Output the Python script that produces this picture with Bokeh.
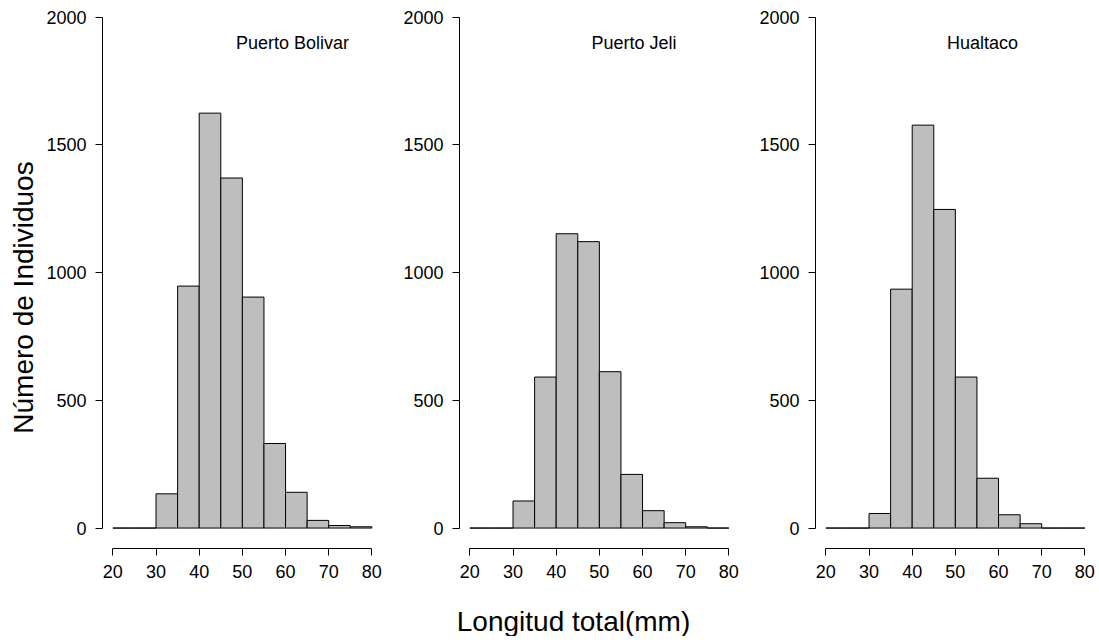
import math
from bokeh.plotting import figure
from bokeh.layouts import row, column
from bokeh.models import Range1d, FixedTicker, Label
from bokeh.embed import file_html
from bokeh.resources import INLINE

# ---- data ----
bin_edges = [20, 25, 30, 35, 40, 45, 50, 55, 60, 65, 70, 75, 80]
puerto_bolivar = [0, 0, 134, 947, 1624, 1370, 904, 331, 140, 30, 10, 5]
puerto_jeli = [0, 0, 106, 591, 1152, 1121, 612, 210, 68, 21, 5, 0]
hualtaco = [0, 0, 57, 935, 1577, 1247, 591, 195, 52, 17, 0, 0]
panel_names = ["Puerto Bolivar", "Puerto Jeli", "Hualtaco"]
x_ticks = [20, 30, 40, 50, 60, 70, 80]
y_ticks = [0, 500, 1000, 1500, 2000]
x_title = "Longitud total(mm)"
y_title = "Número de Individuos"

FONT = "Liberation Sans"
PX_PER_UNIT = 4.317
FRAME_H = 540
TOP, BOTTOM = 8, 40
PANEL_H = TOP + FRAME_H + BOTTOM


def blank_fig(w, h):
    f = figure(frame_width=w, frame_height=h, title=None,
               x_range=Range1d(0, w), y_range=Range1d(0, h),
               x_axis_type=None, y_axis_type=None,
               output_backend="svg", toolbar_location=None,
               min_border=0, background_fill_color="white",
               border_fill_color="white")
    f.outline_line_color = None
    f.grid.visible = False
    return f


# left strip carrying the y-axis title
ylab_w = 40
ylab = blank_fig(ylab_w, PANEL_H)
ylab.add_layout(Label(x=23, y=PANEL_H - 289, text=y_title, angle=math.pi / 2,
                      text_align="center", text_baseline="middle",
                      text_font=FONT, text_font_size="28px",
                      text_color="black"))

panels = [
    # counts, name, min_border_left, frame_width, min_border_right, label x
    (puerto_bolivar, panel_names[0], 62, 280, 0, 61.6),
    (puerto_jeli, panel_names[1], 77, 280, 0, 58.0),
    (hualtaco, panel_names[2], 76, 272, 10, 56.3),
]

figs = []
for i, (counts, name, mbl, fw, mbr, lx) in enumerate(panels):
    x0 = 17.6
    p = figure(
        frame_width=fw, frame_height=FRAME_H, title=None,
        x_range=Range1d(x0, x0 + fw / PX_PER_UNIT),
        y_range=Range1d(-80, 2033.5),
        output_backend="svg", toolbar_location=None,
        min_border_left=mbl, min_border_right=mbr,
        min_border_top=TOP, min_border_bottom=BOTTOM,
        background_fill_color="white", border_fill_color="white",
    )
    p.outline_line_color = None
    p.xgrid.visible = False
    p.ygrid.visible = False

    p.quad(left=bin_edges[:-1], right=bin_edges[1:], bottom=0, top=counts,
           fill_color="#BEBEBE", line_color="black", line_width=1)

    for ax, ticks in ((p.xaxis[0], x_ticks), (p.yaxis[0], y_ticks)):
        ax.ticker = FixedTicker(ticks=ticks)
        ax.bounds = (ticks[0], ticks[-1])
        ax.major_tick_in = 0
        ax.major_tick_out = 7
        ax.minor_tick_line_color = None
        ax.axis_line_color = "black"
        ax.major_tick_line_color = "black"
        ax.major_label_text_font = FONT
        ax.major_label_text_font_size = "18px"
        ax.major_label_text_color = "black"
    p.xaxis[0].major_label_standoff = 9
    p.yaxis[0].major_label_standoff = 9

    p.add_layout(Label(x=lx, y=1900, text=name, text_align="center",
                       text_baseline="middle", text_font=FONT,
                       text_font_size="18px", text_color="black"))
    figs.append(p)

total_w = ylab_w + sum(m + fw + r for _, _, m, fw, r, _ in panels)
xlab_h = 48
xlab = blank_fig(total_w, xlab_h)
xlab.add_layout(Label(x=573, y=xlab_h - 33, text=x_title,
                      text_align="center", text_baseline="alphabetic",
                      text_font=FONT, text_font_size="28px",
                      text_color="black"))

layout = column(row(ylab, *figs, spacing=0), xlab, spacing=0)
open("out.html", "w").write(file_html(layout, INLINE))
